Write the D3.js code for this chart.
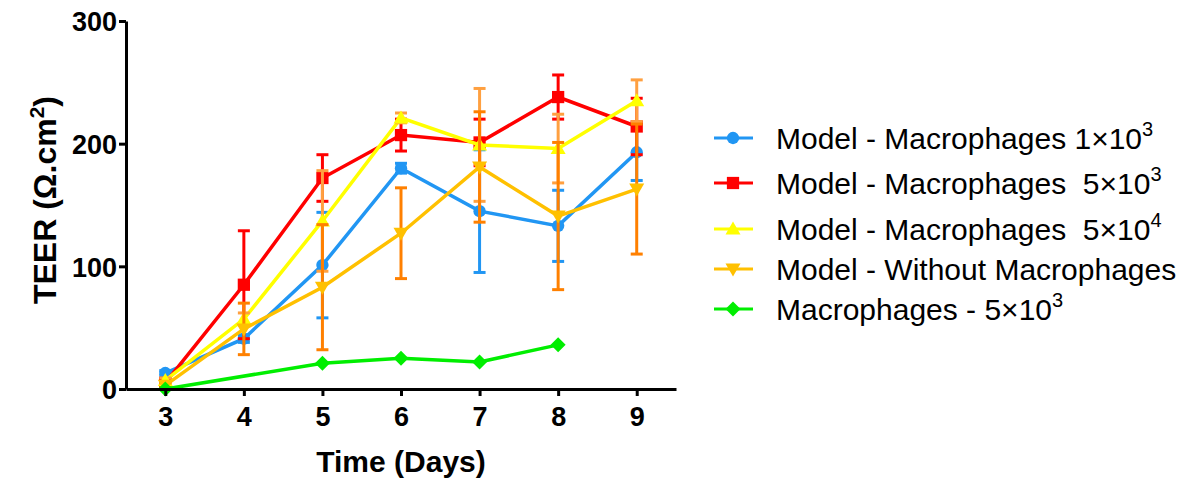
<!DOCTYPE html>
<html><head><meta charset="utf-8">
<script src="https://cdn.jsdelivr.net/npm/d3@7"></script>
<style>
html,body{margin:0;padding:0;background:#fff;}
svg{display:block;font-family:Arial,"Liberation Sans",sans-serif;}
</style></head>
<body>
<svg id="chart" width="1194" height="479"></svg>
<script>
const days = [3,4,5,6,7,8,9];
const blueVals   = [13, 41, 101, 180, 145, 133, 193];
const blueErr    = [2, 3, 43, 4, 50, 29, 23];
const redVals    = [5, 85, 172, 207, 201, 238, 214];
const redErr     = [3, 44, 19, 13, 19, 18, 23];
const yellowVals = [7, 57, 137, 221, 199, 196, 235];
const yellowErr  = [2, 5, 41, 4, 46, 28, 17];
const withoutVals= [3, 49, 83, 127, 181, 141, 163];
const withoutErr = [2, 21, 51, 37, 45, 60, 53];
const greenDays  = [3,5,6,7,8];
const greenVals  = [0, 21, 25, 22, 36];
const yTicks = [0,100,200,300];
const xTicks = [3,4,5,6,7,8,9];

const series = [
  {name:"Model - Macrophages 1×10", sup:"3", days:days, vals:blueVals, err:blueErr, color:"#2196F3", errColor:"#2196F3", sym:"circle"},
  {name:"Model - Macrophages  5×10", sup:"3", days:days, vals:redVals, err:redErr, color:"#FF0000", errColor:"#FF0000", sym:"square"},
  {name:"Model - Macrophages  5×10", sup:"4", days:days, vals:yellowVals, err:yellowErr, color:"#FFFF00", errColor:"#FFA040", sym:"up"},
  {name:"Model - Without Macrophages", sup:"", days:days, vals:withoutVals, err:withoutErr, color:"#FFC000", errColor:"#FF8000", sym:"down"},
  {name:"Macrophages - 5×10", sup:"3", days:greenDays, vals:greenVals, err:null, color:"#00EE00", errColor:"#00EE00", sym:"diamond"}
];

const svg = d3.select("#chart");
const x = d3.scaleLinear().domain([2.5, 9.5]).range([126, 676]);
const y = d3.scaleLinear().domain([0, 300]).range([389, 21]);

function symPath(sym){
  switch(sym){
    case "circle": return d3.symbol(d3.symbolCircle, 120)();
    case "square": return d3.symbol(d3.symbolSquare, 150)();
    case "up": return "M0,-7.5L7.5,5.5L-7.5,5.5Z";
    case "down": return "M0,7.5L7.5,-5.5L-7.5,-5.5Z";
    case "diamond": return "M0,-7.5L7.5,0L0,7.5L-7.5,0Z";
  }
}

const plot = svg.append("g");
const line = d3.line().x(d=>x(d[0])).y(d=>y(d[1]));
series.forEach(s=>{
  const pts = s.days.map((d,i)=>[d, s.vals[i]]);
  const g = plot.append("g");
  g.append("path").attr("d", line(pts)).attr("fill","none").attr("stroke", s.color).attr("stroke-width",3.5);
  if(s.err){
    pts.forEach((p,i)=>{
      const e = s.err[i];
      const cx = x(p[0]);
      const y1 = y(p[1]+e), y2 = y(Math.max(0,p[1]-e));
      g.append("line").attr("x1",cx).attr("x2",cx).attr("y1",y1).attr("y2",y2).attr("stroke",s.errColor).attr("stroke-width",3);
      [y1,y2].forEach(yy=>g.append("line").attr("x1",cx-6).attr("x2",cx+6).attr("y1",yy).attr("y2",yy).attr("stroke",s.errColor).attr("stroke-width",3));
    });
  }
  pts.forEach(p=>{
    g.append("path").attr("d", symPath(s.sym)).attr("transform",`translate(${x(p[0])},${y(p[1])})`).attr("fill", s.color);
  });
});

// axes
const yAxis = svg.append("g").attr("transform","translate(126,0)")
  .call(d3.axisLeft(y).tickValues(yTicks).tickFormat(d3.format("d")).tickSize(7).tickSizeOuter(0).tickPadding(2));
const xAxis = svg.append("g").attr("transform","translate(0,389)")
  .call(d3.axisBottom(x).tickValues(xTicks).tickFormat(d3.format("d")).tickSize(7).tickSizeOuter(0).tickPadding(8));
[yAxis,xAxis].forEach(a=>{
  a.select(".domain").attr("stroke","#000").attr("stroke-width",3);
  a.selectAll(".tick line").attr("stroke","#000").attr("stroke-width",3);
  a.selectAll(".tick text").attr("fill","#000").style("font-size","27px").style("font-weight","bold").style("font-family","Arial, 'Liberation Sans', sans-serif");
});
xAxis.selectAll(".tick text").attr("dy","0.8em");
yAxis.selectAll(".tick text").attr("dy","0.36em");

// axis titles
svg.append("text").attr("x",401).attr("y",472).attr("text-anchor","middle")
  .style("font-size","30px").style("font-weight","bold").text("Time (Days)");
const yt = svg.append("text").attr("transform","translate(56,200) rotate(-90)").attr("text-anchor","middle")
  .style("font-size","32px").style("font-weight","bold");
yt.append("tspan").text("TEER (Ω.cm");
yt.append("tspan").attr("dy","-12").style("font-size","21px").text("2");
yt.append("tspan").attr("dy","12").text(")");

// legend
const legY = [138, 183, 229, 269, 309];
const leg = svg.append("g");
series.forEach((s,i)=>{
  const ly = legY[i];
  leg.append("line").attr("x1",714).attr("x2",753).attr("y1",ly).attr("y2",ly).attr("stroke",s.color).attr("stroke-width",3);
  leg.append("path").attr("d", symPath(s.sym)).attr("transform",`translate(733,${ly})`).attr("fill",s.color);
  const t = leg.append("text").attr("x",776).attr("y",ly+11).style("font-size","30px").attr("fill","#000").attr("xml:space","preserve").style("white-space","pre");
  t.append("tspan").text(s.name);
  if(s.sup) t.append("tspan").attr("dy","-13").style("font-size","20px").text(s.sup);
});
</script>
</body></html>
